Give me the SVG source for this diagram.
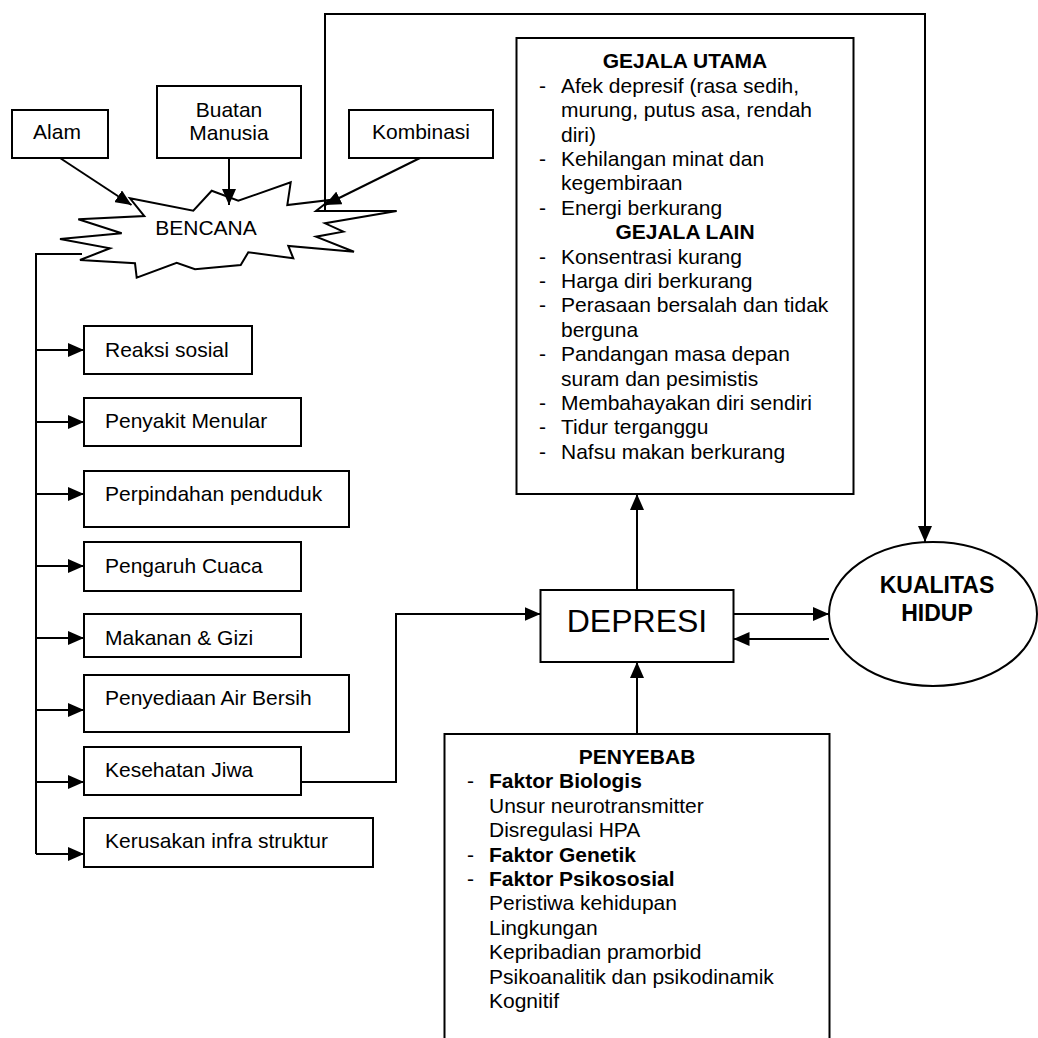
<svg xmlns="http://www.w3.org/2000/svg" width="1038" height="1038" viewBox="0 0 1038 1038">
<style>
.b{fill:#fff;stroke:#000;stroke-width:2}
.c{fill:none;stroke:#000;stroke-width:2}
text{font-family:"Liberation Sans",Arial,sans-serif;font-size:21px;fill:#000}
.bd{font-weight:bold}
.m{text-anchor:middle}
</style>
<defs>
<marker id="ah" viewBox="0 0 16 14" refX="16" refY="7" markerWidth="16" markerHeight="14" orient="auto" markerUnits="userSpaceOnUse"><path d="M0,0 L16,7 L0,14 z" fill="#000"/></marker>
</defs>
<rect width="1038" height="1038" fill="#fff"/>

<g id="alam"><rect class="b" x="12" y="110" width="96" height="48"/><text class="m" x="57" y="139">Alam</text></g>
<g id="buatan"><rect class="b" x="157" y="86" width="144" height="72"/><text class="m" x="229" y="117">Buatan</text><text class="m" x="229" y="140">Manusia</text></g>
<g id="kombinasi"><rect class="b" x="349" y="110" width="144" height="48"/><text class="m" x="421" y="139">Kombinasi</text></g>

<g id="bencana"><polygon class="b" points="130,198.3 193.3,210.7 211.7,190.7 238.3,200.7 290.7,182.3 287.3,205 330,200 316,211 396.7,211 325,223.3 343.3,231.7 316,236.7 354,251.7 288.3,246 293.3,258.3 248.3,252.3 240.7,265 195,269.3 176.7,262.7 136.7,277.7 135,263.3 80,260 110,248.3 60,239 121.7,233.3 78.3,219.3 144.3,216"/><text class="m" x="206" y="235">BENCANA</text></g>

<g id="reaksi"><rect class="b" x="84" y="326" width="168" height="48"/><text x="105" y="357">Reaksi sosial</text></g>
<g id="penyakit"><rect class="b" x="84" y="398" width="217" height="48"/><text x="105" y="428">Penyakit Menular</text></g>
<g id="perpindahan"><rect class="b" x="84" y="471" width="265" height="56"/><text x="105" y="501">Perpindahan penduduk</text></g>
<g id="cuaca"><rect class="b" x="84" y="542" width="217" height="49"/><text x="105" y="573">Pengaruh Cuaca</text></g>
<g id="makanan"><rect class="b" x="84" y="614" width="217" height="43"/><text x="105" y="645">Makanan &amp; Gizi</text></g>
<g id="air"><rect class="b" x="84" y="675" width="265" height="57"/><text x="105" y="705">Penyediaan Air Bersih</text></g>
<g id="jiwa"><rect class="b" x="84" y="747" width="217" height="48"/><text x="105" y="777">Kesehatan Jiwa</text></g>
<g id="infra"><rect class="b" x="84" y="818" width="289" height="49"/><text x="105" y="848">Kerusakan infra struktur</text></g>

<g id="gejala"><rect class="b" x="516.5" y="38" width="337" height="456"/>
<text class="bd m" x="685" y="68.3">GEJALA UTAMA</text>
<text x="539" y="92.7">-</text><text x="561" y="92.7">Afek depresif (rasa sedih,</text>
<text x="561" y="117.1">murung, putus asa, rendah</text>
<text x="561" y="141.5">diri)</text>
<text x="539" y="165.9">-</text><text x="561" y="165.9">Kehilangan minat dan</text>
<text x="561" y="190.3">kegembiraan</text>
<text x="539" y="214.7">-</text><text x="561" y="214.7">Energi berkurang</text>
<text class="bd m" x="685" y="239.1">GEJALA LAIN</text>
<text x="539" y="263.5">-</text><text x="561" y="263.5">Konsentrasi kurang</text>
<text x="539" y="287.9">-</text><text x="561" y="287.9">Harga diri berkurang</text>
<text x="539" y="312.3">-</text><text x="561" y="312.3">Perasaan bersalah dan tidak</text>
<text x="561" y="336.7">berguna</text>
<text x="539" y="361.1">-</text><text x="561" y="361.1">Pandangan masa depan</text>
<text x="561" y="385.5">suram dan pesimistis</text>
<text x="539" y="409.9">-</text><text x="561" y="409.9">Membahayakan diri sendiri</text>
<text x="539" y="434.3">-</text><text x="561" y="434.3">Tidur terganggu</text>
<text x="539" y="458.7">-</text><text x="561" y="458.7">Nafsu makan berkurang</text>
</g>

<g id="depresi"><rect class="b" x="540.5" y="590" width="193" height="72"/><text class="m" x="637" y="632" style="font-size:32px">DEPRESI</text></g>

<g id="kualitas"><ellipse class="b" cx="933" cy="614" rx="104" ry="72"/><text class="bd m" x="937" y="593" style="font-size:23px">KUALITAS</text><text class="bd m" x="937" y="621" style="font-size:23px">HIDUP</text></g>

<g id="penyebab"><rect class="b" x="444.5" y="734" width="385" height="320"/>
<text class="bd m" x="637" y="764.3">PENYEBAB</text>
<text x="467" y="788.3">-</text><text class="bd" x="489" y="788.3">Faktor Biologis</text>
<text x="489" y="812.7">Unsur neurotransmitter</text>
<text x="489" y="837.1">Disregulasi HPA</text>
<text x="467" y="861.5">-</text><text class="bd" x="489" y="861.5">Faktor Genetik</text>
<text x="467" y="885.9">-</text><text class="bd" x="489" y="885.9">Faktor Psikososial</text>
<text x="489" y="910.3">Peristiwa kehidupan</text>
<text x="489" y="934.7">Lingkungan</text>
<text x="489" y="959.1">Kepribadian pramorbid</text>
<text x="489" y="983.5">Psikoanalitik dan psikodinamik</text>
<text x="489" y="1007.9">Kognitif</text>
</g>

<g id="connectors">
<path class="c" d="M60,158 L131.5,205" marker-end="url(#ah)"/>
<path class="c" d="M229,158 L229,205" marker-end="url(#ah)"/>
<path class="c" d="M420,158 L325,205" marker-end="url(#ah)"/>
<path class="c" d="M325,211 L325,14 L925,14 L925,542" marker-end="url(#ah)"/>
<path class="c" d="M82,254 L36,254 L36,854"/>
<path class="c" d="M36,350 L84,350" marker-end="url(#ah)"/>
<path class="c" d="M36,422 L84,422" marker-end="url(#ah)"/>
<path class="c" d="M36,494 L84,494" marker-end="url(#ah)"/>
<path class="c" d="M36,566 L84,566" marker-end="url(#ah)"/>
<path class="c" d="M36,638 L84,638" marker-end="url(#ah)"/>
<path class="c" d="M36,710 L84,710" marker-end="url(#ah)"/>
<path class="c" d="M36,782 L84,782" marker-end="url(#ah)"/>
<path class="c" d="M36,854 L84,854" marker-end="url(#ah)"/>
<path class="c" d="M301,782 L396,782 L396,614 L540.5,614" marker-end="url(#ah)"/>
<path class="c" d="M637,590 L637,494" marker-end="url(#ah)"/>
<path class="c" d="M637,734 L637,662" marker-end="url(#ah)"/>
<path class="c" d="M733.5,614 L829,614" marker-end="url(#ah)"/>
<path class="c" d="M829,639 L733.5,639" marker-end="url(#ah)"/>
</g>
</svg>
